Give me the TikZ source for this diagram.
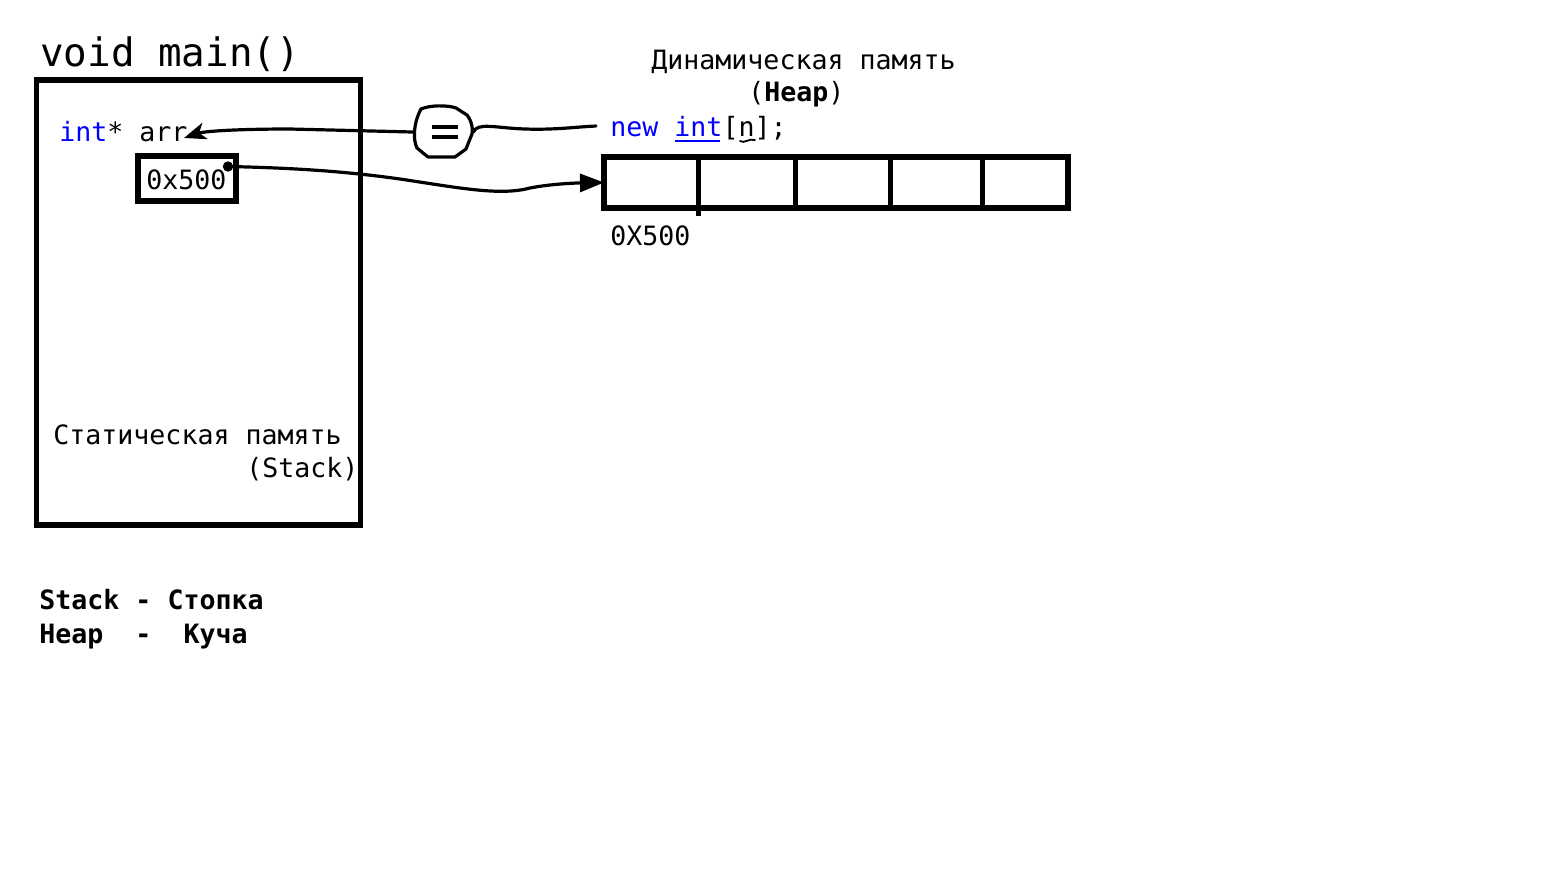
\documentclass[tikz,border=0pt]{standalone}
\usepackage{fontspec}
\setmainfont{DejaVu Sans Mono}
\usetikzlibrary{arrows.meta}
\definecolor{kw}{RGB}{0,0,255}
\tikzset{
  txt/.style={inner sep=0pt, anchor=base west, font=\fontsize{13.3}{16}\selectfont},
  bigtxt/.style={txt, font=\fontsize{19.6}{23}\selectfont},
  frame/.style={draw, line width=2.75pt, inner sep=0pt, outer sep=0pt, anchor=north west},
  divider/.style={line width=2.5pt},
  hand/.style={line width=1.6pt, line cap=round, line join=round},
}
\begin{document}
\begin{tikzpicture}[x=0.5pt,y=-0.5pt]
\useasboundingbox (0,0) rectangle (1564,880);

% Stack frame
\node[bigtxt] (title) at (40,66) {void main()};
\node[frame, minimum width=162pt, minimum height=222.5pt] (stack) at (36.5,80) {};
\node[txt] (decl) at (59,141) {\textcolor{kw}{int}* arr};
\coordinate (arrtip) at (184,138);
\node[frame, minimum width=49pt, minimum height=22.5pt] (ptr) at (138,156) {};
\node[txt] (ptrval) at (146,189) {0x500};
\fill (228,166.5) circle (2.6pt) coordinate (dot);
\node[txt] (stacklbl) at (53,444) {Статическая память};
\node[txt] (stacklbl2) at (246,477) {(Stack)};

% Heap
\node[txt] (heaplbl) at (651,69) {Динамическая память};
\node[txt] (heaplbl2) at (748,101) {(\textbf{Heap})};
\node[txt] (newexpr) at (610,136) {\textcolor{kw}{new} \textcolor{kw}{int}[n];};
\draw[kw, line width=1pt] (675,140.5) -- (720,140.5);
\draw[line width=0.9pt, line cap=round] (740,141) .. controls (744,144) and (749,138) .. (755,140);
\coordinate (newstart) at (596,126);
\node[frame, minimum width=232pt, minimum height=25.5pt] (heap) at (604,157) {};
\draw[divider] (698,157) -- (698,216);
\draw[divider] (795,157) -- (795,208);
\draw[divider] (890.5,157) -- (890.5,208);
\draw[divider] (982.5,160) -- (982.5,208);
\node[txt] (addr) at (610,245) {0X500};

% assignment symbol
\node[minimum width=30pt, minimum height=25pt, inner sep=0pt] (eq) at (443,132) {};
\draw[hand] (421,109) .. controls (430,105) and (448,105) .. (456,108)
  -- (467,115) .. controls (472,121) and (473,130) .. (472,134)
  -- (466,149) -- (455,157) -- (428,157) -- (417,148)
  .. controls (413,140) and (413,124) .. (421,109) -- cycle;
\draw[line width=2pt] (432,127) -- (458,127);
\draw[line width=2pt] (432,137) -- (458,137);

% connectors
\draw[hand, -{Stealth[length=11pt, width=8.5pt, inset=3pt]}] (eq.west) -- (290,129)
  .. controls (240,129) and (205,131) .. (arrtip);
\draw[hand] (eq.east) .. controls (478,122) and (495,128) .. (525,129)
  .. controls (555,130) and (575,127) .. (newstart);
\draw[hand, -{Triangle[length=12pt, width=9pt]}] (dot)
  .. controls (300,168) and (350,172) .. (400,179)
  .. controls (460,188) and (500,196) .. (530,188)
  .. controls (550,184) and (575,183) .. (heap.west);

% legend
\node[txt, font=\fontsize{13.3}{16}\selectfont\bfseries] (legend1) at (39,609) {Stack - Стопка};
\node[txt, font=\fontsize{13.3}{16}\selectfont\bfseries] (legend2) at (39,643) {Heap\ \ -\ \ Куча};
\end{tikzpicture}
\end{document}
